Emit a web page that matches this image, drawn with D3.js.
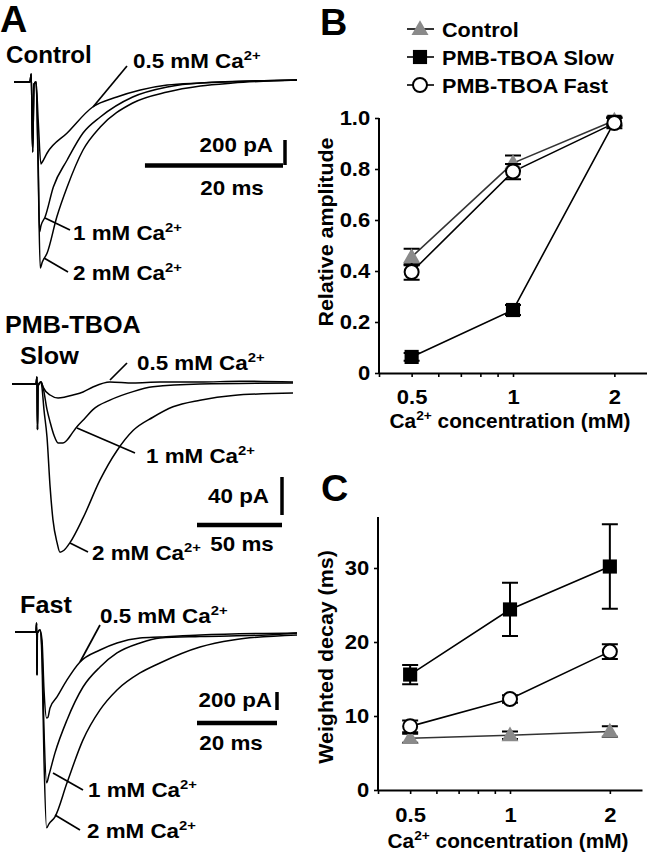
<!DOCTYPE html>
<html><head><meta charset="utf-8">
<script src="https://cdn.jsdelivr.net/npm/d3@7"></script>
<style>html,body{margin:0;padding:0;background:#fff;}svg{display:block;}</style>
</head><body>
<script>
// ---------------- DATA ----------------
// Panel A traces: [time (ms), current (pA)]
const ctrl05 = [[0,0],[2.3,0],[2.5,64],[2.7,-560],[2.9,-16],[3.2,0],[3.5,-300],[3.9,-656],[4.1,-640],[4.8,-568],[7.7,-408],[11.4,-200],[14.9,-120],[18.3,-64],[22.2,-24],[27,-8],[41,16]];
const ctrl1  = [[0,0],[2.3,0],[2.5,64],[2.7,-560],[2.9,-16],[3.2,0],[3.5,-624],[3.7,-1200],[3.9,-1150],[4.5,-1080],[5.7,-840],[7.7,-624],[10,-408],[12.5,-280],[17.2,-120],[22.2,-40],[27,-8],[41,16]];
const ctrl2  = [[0,0],[2.3,0],[2.5,64],[2.7,-560],[2.9,-16],[3.2,0],[3.5,-704],[3.8,-1488],[4.1,-1440],[4.8,-1368],[6.2,-1080],[7.7,-840],[10,-544],[12.5,-360],[17.2,-168],[22.2,-80],[27,-32],[31.7,-8],[41,16]];

const slow05 = [[0,0],[14.1,0],[14.7,7.4],[15.0,-48],[15.3,-2],[17.1,2],[18.2,-3],[22.4,-11.6],[27.1,-14.7],[31.2,-13.7],[35.9,-11.6],[41.8,-8.4],[47.6,-3.2],[57.6,2.1],[71.2,1],[87.1,2],[110.6,2],[134.1,3],[165.3,2]];
const slow1  = [[0,0],[14.1,0],[14.7,7.4],[15.0,-48],[15.3,-2],[17.1,2],[18.2,-3],[20.6,-27],[22.4,-40],[24.7,-54],[27.1,-62],[30,-62],[32.4,-59],[35.3,-52],[38.2,-45],[42.9,-36],[47.6,-27],[57.6,-17],[71.2,-8],[82.9,-3],[110.6,0],[165.3,1]];
const slow2  = [[0,0],[14.1,0],[14.7,7.4],[15.0,-48],[15.3,-2],[17.1,2],[17.6,-3],[18.8,-27],[20.6,-56],[22.4,-108],[24.1,-143],[26.5,-167],[28.2,-177],[30.6,-175],[34.1,-167],[41.8,-141],[51.8,-101],[61.8,-70],[71.2,-49],[82.9,-35],[94.7,-24],[110.6,-17],[130,-12],[165.3,-9.5]];

const fast05 = [[0,0],[5.25,0],[5.4,100],[5.5,-477],[5.6,-11],[6.25,22],[6.75,-89],[7.25,-644],[7.9,-955],[8.2,-950],[8.75,-844],[10.5,-722],[13,-533],[16.25,-333],[21.25,-200],[25.5,-122],[31.25,-67],[36.25,-56],[46.25,-33],[70.5,-11]];
const fast1  = [[0,0],[5.25,0],[5.4,100],[5.5,-477],[5.6,-11],[6.25,22],[6.75,-200],[7.25,-1088],[7.9,-1676],[8.5,-1587],[10,-1343],[13,-977],[17,-611],[21.25,-389],[25.5,-233],[31.25,-122],[36.25,-67],[46.25,-50],[63,-33],[70.5,-11]];
const fast2  = [[0,0],[5.25,0],[5.4,100],[5.5,-477],[5.6,-11],[6.25,22],[6.75,-311],[7.25,-1421],[7.9,-2176],[8.5,-2131],[10,-2054],[13,-1676],[17,-1199],[21.25,-866],[25.5,-644],[31.25,-455],[36.25,-344],[46.25,-167],[54.5,-89],[70.5,-33]];

// Panels B and C
const concentrations = [0.5, 1, 2];
const seriesNames = ["Control", "PMB-TBOA Slow", "PMB-TBOA Fast"];
const ampControl = [0.455, 0.823, 0.99];
const ampControlErr = [0.032, 0.03, 0.015];
const ampSlow = [0.063, 0.247, 0.985];
const ampSlowErr = [0.015, 0.02, 0.015];
const ampFast = [0.396, 0.79, 0.98];
const ampFastErr = [0.03, 0.03, 0.02];
const decayControl = [7.0, 7.4, 7.9];
const decayControlErr = [0.6, 0.5, 0.7];
const decaySlow = [15.6, 24.4, 30.2];
const decaySlowErr = [1.3, 3.6, 5.7];
const decayFast = [8.6, 12.3, 18.7];
const decayFastErr = [0.8, 0.5, 1.0];
const xTicks = [0.4, 0.5, 0.6, 0.7, 0.8, 0.9, 1, 2];
const xTickLabels = {0.5: "0.5", 1: "1", 2: "2"};
const ampTicks = [0, 0.2, 0.4, 0.6, 0.8, 1.0];
const ampTickLabels = ["0", "0.2", "0.4", "0.6", "0.8", "1.0"];
const decayTicks = [0, 10, 20, 30];

// ---------------- DRAWING ----------------
const FONT = "'Liberation Sans', Arial, Helvetica, sans-serif";
const W = 647, H = 853;
const svg = d3.select("body").append("svg").attr("width", W).attr("height", H);
svg.append("rect").attr("width", W).attr("height", H).attr("fill", "#fff");

function addText(parent, x, y, parts, o = {}) {
  const size = o.size || 20, sx = o.sx || 1.12, rot = o.rot || 0;
  const t = parent.append("text")
    .attr("transform", `translate(${x},${y})` + (rot ? ` rotate(${rot})` : "") + ` scale(${sx},1)`)
    .attr("font-family", FONT).attr("font-weight", "bold").attr("font-size", size)
    .attr("text-anchor", o.anchor || "start").attr("fill", o.fill || "#000");
  let raised = false;
  parts.forEach(p => {
    const sup = typeof p !== "string";
    const s = sup ? p.sup : p;
    const ts = t.append("tspan").text(s);
    if (sup) {
      ts.attr("font-size", size * 0.66);
      if (!raised) { ts.attr("dy", -0.42 * size); raised = true; }
    } else if (raised) { ts.attr("dy", 0.42 * size); raised = false; }
  });
  return t;
}
function seg(parent, x1, y1, x2, y2, w = 1.7) {
  parent.append("line").attr("x1", x1).attr("y1", y1).attr("x2", x2).attr("y2", y2)
    .attr("stroke", "#000").attr("stroke-width", w);
}
const caLabel = (c) => [c + " mM Ca", {sup: "2+"}];

// ---- Panel A ----
const A = svg.append("g");
addText(A, 0, 32, ["A"], {size: 36, sx: 1.05});

function tracePanel(traces, xs, ys) {
  const line = d3.line().x(d => xs(d[0])).y(d => ys(d[1])).curve(d3.curveMonotoneX);
  traces.forEach(tr => {
    A.append("path").attr("d", line(tr)).attr("fill", "none")
      .attr("stroke", "#000").attr("stroke-width", 1.5).attr("stroke-linejoin", "round");
  });
}
function scaleBar(x1, x2, y1, y2, w) {
  A.append("line").attr("x1", x1).attr("x2", x2).attr("y1", y1).attr("y2", y2)
    .attr("stroke", "#000").attr("stroke-width", w);
}

// Control
const xCtl = d3.scaleLinear().domain([0, 41]).range([14, 297]);
const yCtl = d3.scaleLinear().domain([0, -1500]).range([82, 269.5]);
tracePanel([ctrl05, ctrl1, ctrl2], xCtl, yCtl);
addText(A, 6, 63, ["Control"], {size: 23, sx: 1.05});
addText(A, 133, 68, caLabel("0.5"));
seg(A, 93, 107, 127, 66);
addText(A, 73, 240, caLabel("1"));
seg(A, 45, 218, 70, 230);
addText(A, 73, 280, caLabel("2"));
seg(A, 44, 258, 68, 272);
{
  const len = xCtl(20) - xCtl(0), vl = yCtl(-200) - yCtl(0);
  scaleBar(283 - len, 283, 165.5, 165.5, 4.5);
  scaleBar(285, 285, 165 - vl, 165, 3.5);
  addText(A, 273, 152, ["200 pA"], {anchor: "end"});
  addText(A, 232, 195, ["20 ms"], {anchor: "middle"});
}

// Slow
const xSlow = d3.scaleLinear().domain([0, 165.3]).range([12, 293]);
const ySlow = d3.scaleLinear().domain([0, -200]).range([384, 574]);
tracePanel([slow05, slow1, slow2], xSlow, ySlow);
addText(A, 5, 333, ["PMB-TBOA"], {size: 24, sx: 1.05});
addText(A, 20, 364, ["Slow"], {size: 24, sx: 1.05});
addText(A, 137, 370, caLabel("0.5"));
seg(A, 110, 380, 127, 363);
addText(A, 146, 463, caLabel("1"));
seg(A, 77, 428, 135, 453);
addText(A, 92, 560, caLabel("2"));
seg(A, 70, 543, 88, 552);
{
  const len = xSlow(50) - xSlow(0), vl = ySlow(-40) - ySlow(0);
  scaleBar(282 - len, 282, 525, 525, 4.5);
  scaleBar(282, 282, 515 - vl, 515, 3.5);
  addText(A, 269, 503, ["40 pA"], {anchor: "end"});
  addText(A, 242, 551, ["50 ms"], {anchor: "middle"});
}

// Fast
const xFast = d3.scaleLinear().domain([0, 70.5]).range([15, 297]);
const yFast = d3.scaleLinear().domain([0, -2000]).range([632, 812]);
tracePanel([fast05, fast1, fast2], xFast, yFast);
addText(A, 20, 613, ["Fast"], {size: 24, sx: 1.05});
addText(A, 100, 623, caLabel("0.5"));
seg(A, 80, 662, 100, 625);
addText(A, 88, 797, caLabel("1"));
seg(A, 53, 773, 83, 790);
addText(A, 87, 838, caLabel("2"));
seg(A, 55, 815, 80, 830);
{
  const len = xFast(20) - xFast(0), vl = yFast(-200) - yFast(0);
  scaleBar(277 - len, 277, 723, 723, 4.5);
  scaleBar(277, 277, 710 - vl, 710, 3.5);
  addText(A, 272, 707, ["200 pA"], {anchor: "end"});
  addText(A, 231, 750, ["20 ms"], {anchor: "middle"});
}

// ---- Panels B & C ----
const GRAY = "#8a8a8a";
function drawMarker(g, kind, x, y) {
  if (kind === 2) {
    g.append("circle").attr("cx", x).attr("cy", y).attr("r", 7)
      .attr("fill", "#fff").attr("stroke", "#000").attr("stroke-width", 2);
  } else {
    const p = kind === 0 ? d3.symbol(d3.symbolTriangle, 125)() : d3.symbol(d3.symbolSquare, 200)();
    g.append("path").attr("d", p).attr("transform", `translate(${x},${y + (kind === 0 ? 1 : 0)})`)
      .attr("fill", kind === 0 ? GRAY : "#000");
  }
}

function scatterPanel(g, xs, ys, series, opts) {
  const yAxis = d3.axisLeft(ys).tickValues(opts.yTicks).tickSize(4).tickSizeOuter(0).tickPadding(4)
    .tickFormat((d, i) => opts.yLabels[i]);
  const yg = g.append("g").attr("transform", `translate(${xs.range()[0]},0)`).call(yAxis);
  yg.select(".domain").attr("d", `M0,${ys(opts.yAxisTop)}V${ys(0)}`);
  const xAxis = d3.axisBottom(xs).tickValues(xTicks).tickSize(4).tickSizeOuter(0).tickPadding(opts.xPad)
    .tickFormat(d => xTickLabels[d] || "");
  const xg = g.append("g").attr("transform", `translate(0,${ys(0)})`).call(xAxis);
  [yg, xg].forEach(ax => {
    ax.select(".domain").attr("stroke", "#000").attr("stroke-width", 2);
    ax.selectAll(".tick line").attr("stroke", "#000").attr("stroke-width", 1.6);
    ax.selectAll(".tick text").attr("font-family", FONT).attr("font-weight", "bold")
      .attr("font-size", 20).attr("fill", "#000").attr("transform", "scale(1.1,1)");
  });

  series.forEach((s, k) => {
    const pts = concentrations.map((c, i) => [xs(c), ys(s.v[i])]);
    g.append("path").attr("d", d3.line()(pts)).attr("fill", "none")
      .attr("stroke", k === 0 ? "#333" : "#000").attr("stroke-width", 1.6);
  });
  series.forEach((s, k) => {
    concentrations.forEach((c, i) => {
      const x = xs(c), yHi = ys(s.v[i] + s.e[i]), yLo = ys(s.v[i] - s.e[i]);
      g.append("path").attr("d", `M${x},${yHi}V${yLo}M${x - 8},${yHi}H${x + 8}M${x - 8},${yLo}H${x + 8}`)
        .attr("stroke", "#000").attr("stroke-width", 2).attr("fill", "none");
    });
    concentrations.forEach((c, i) => drawMarker(g, k, xs(c), ys(s.v[i])));
  });
}

const B = svg.append("g");
addText(B, 320, 35, ["B"], {size: 36, sx: 1.05});
const xB = d3.scaleLog().base(2).domain([0.4, 2.5]).range([379, 647]);
const yB = d3.scaleLinear().domain([0, 1]).range([373, 118]);
scatterPanel(B, xB, yB, [
  {v: ampControl, e: ampControlErr},
  {v: ampSlow, e: ampSlowErr},
  {v: ampFast, e: ampFastErr}
], {yTicks: ampTicks, yLabels: ampTickLabels, yAxisTop: 1.0, xPad: 13});
addText(B, 333, 232, ["Relative amplitude"], {rot: -90, anchor: "middle", size: 20, sx: 1.07});
addText(B, 510, 428, ["Ca", {sup: "2+"}, " concentration (mM)"], {anchor: "middle", size: 20, sx: 1.04});

const legY = [29, 57, 85];
seriesNames.forEach((name, k) => {
  B.append("line").attr("x1", 407).attr("x2", 434).attr("y1", legY[k]).attr("y2", legY[k])
    .attr("stroke", "#000").attr("stroke-width", 1.6);
  drawMarker(B, k, 420, legY[k]);
  addText(B, 442, legY[k] + 7.5, [name], {size: 20, sx: 1.08});
});

const C = svg.append("g");
addText(C, 321, 501, ["C"], {size: 36, sx: 1.05});
const xC = d3.scaleLog().base(2).domain([0.4, 2.5]).range([378, 642]);
const yC = d3.scaleLinear().domain([0, 30]).range([790, 568]);
scatterPanel(C, xC, yC, [
  {v: decayControl, e: decayControlErr},
  {v: decaySlow, e: decaySlowErr},
  {v: decayFast, e: decayFastErr}
], {yTicks: decayTicks, yLabels: decayTicks.map(String), yAxisTop: 36.9, xPad: 14});
addText(C, 333, 657, ["Weighted decay (ms)"], {rot: -90, anchor: "middle", size: 20, sx: 1.07});
addText(C, 508, 848, ["Ca", {sup: "2+"}, " concentration (mM)"], {anchor: "middle", size: 20, sx: 1.04});
</script>
</body></html>
